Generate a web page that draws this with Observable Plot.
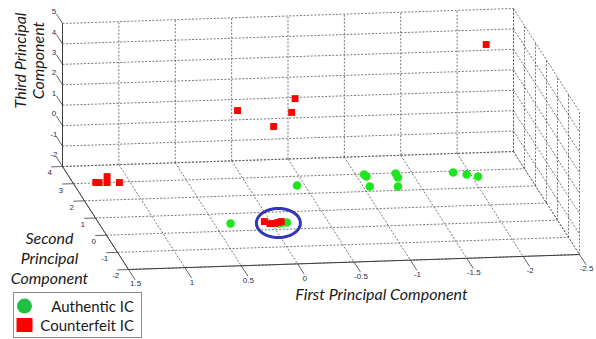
<!DOCTYPE html>
<html><head><meta charset="utf-8">
<script src="https://cdn.jsdelivr.net/npm/d3@7"></script>
<script src="https://cdn.jsdelivr.net/npm/@observablehq/plot@0.6"></script>
<style>
body{margin:0;background:#fff;}
#wrap{position:relative;width:596px;height:339px;overflow:hidden;}
.legend{position:absolute;left:13px;top:292px;width:129px;height:46px;border:1px solid #8c8c8c;background:#fff;box-sizing:border-box;font-family:Lato,"Open Sans",sans-serif;font-size:15px;color:#1a1a1a;}
.legend .lbl{position:absolute;right:7px;white-space:nowrap;line-height:18px;}
.legend svg{position:absolute;left:1px;}
</style></head><body><div id="wrap"></div>
<script>
// Axis ticks
const pc1Ticks = [1.5, 1, 0.5, 0, -0.5, -1, -1.5, -2, -2.5];
const pc2Ticks = [4, 3, 2, 1, 0, -1, -2];
const pc3Ticks = [-2, -1, 0, 1, 2, 3, 4, 5];

// Authentic IC (green)
const authPC1 = [-0.98, -1.00, -1.03, -1.26, -1.28, -1.28, -1.77, -1.89, -1.99, 0.40, -0.19, -0.03, -0.06, -0.10];
const authPC2 = [2, 2, 2, 2, 2, 2, 2, 2, 2, 0, 0, 0, 0, 0];
const authPC3 = [-1.17, -1.27, -1.76, -1.17, -1.37, -1.81, -1.21, -1.33, -1.45, -1.63, 0.12, -1.71, -1.67, -1.67];

// Counterfeit IC (red)
const cfPC1 = [-2.16, 0.24, -0.27, -0.24, -0.08, 1.40, 1.37, 1.30, 1.30, 1.19, 0.10, 0.05, 0.01, -0.02, -0.05];
const cfPC2 = [3, 1, 1, 1, 1, 2, 2, 2, 2, 2, 0, 0, 0, 0, 0];
const cfPC3 = [4.14, 3.03, 3.52, 2.85, 2.19, -1.12, -1.13, -1.14, -0.85, -1.16, -1.59, -1.70, -1.70, -1.66, -1.62];

// Highlighted cluster (centre in PC space)
const clusterCentre = [-0.02, 0, -1.66];

// --- view (orthographic camera) ---
const lim = {x0: 1.5, x1: -2.5, y0: -2, y1: 4, z0: -2, z1: 5};
const view = {ox: 62, oy: 166, ex: [-112.75, 3.75], ey: [-11, -17.17], ez: [0, -20.43]};
function proj(a, b, c) {
  const da = a - lim.x0, db = b - lim.y1, dc = c - lim.z0;
  return [view.ox + da*view.ex[0] + db*view.ey[0] + dc*view.ez[0],
          view.oy + da*view.ex[1] + db*view.ey[1] + dc*view.ez[1]];
}
function seg(p, q) { const [x1,y1] = proj(...p), [x2,y2] = proj(...q); return {x1,y1,x2,y2}; }

const grid = [];
for (const a of pc1Ticks) { grid.push(seg([a,lim.y1,lim.z0],[a,lim.y1,lim.z1])); grid.push(seg([a,lim.y1,lim.z0],[a,lim.y0,lim.z0])); }
for (const c of pc3Ticks) { grid.push(seg([lim.x0,lim.y1,c],[lim.x1,lim.y1,c])); grid.push(seg([lim.x1,lim.y1,c],[lim.x1,lim.y0,c])); }
for (const b of pc2Ticks) { grid.push(seg([lim.x0,b,lim.z0],[lim.x1,b,lim.z0])); grid.push(seg([lim.x1,b,lim.z0],[lim.x1,b,lim.z1])); }

const axes = [
  seg([lim.x0,lim.y1,lim.z0],[lim.x0,lim.y1,lim.z1]),
  seg([lim.x0,lim.y1,lim.z0],[lim.x0,lim.y0,lim.z0]),
  seg([lim.x0,lim.y0,lim.z0],[lim.x1,lim.y0,lim.z0])
];
const ticks = [], labels = [];
for (const c of pc3Ticks) { const s = seg([lim.x0,lim.y1,c],[lim.x0,lim.y1+0.55,c]); ticks.push(s); labels.push({x:s.x2-2.5,y:s.y2-2.5,t:String(c),anchor:"end"}); }
for (const b of pc2Ticks) { const s = seg([lim.x0,b,lim.z0],[lim.x0+0.1,b,lim.z0]); ticks.push(s); labels.push({x:s.x2-1.5,y:s.y2+6,t:String(b),anchor:"end"}); }
for (const a of pc1Ticks) { const s = seg([a,lim.y0,lim.z0],[a,lim.y0-0.6,lim.z0]); ticks.push(s); labels.push({x:s.x2+0.5,y:s.y2+4,t:String(a),anchor:"start"}); }

const auth = authPC1.map((v,i) => { const [x,y] = proj(v, authPC2[i], authPC3[i]); return {x,y}; });
const cf = cfPC1.map((v,i) => { const [x,y] = proj(v, cfPC2[i], cfPC3[i]); return {x,y}; });

const [ecx, ecy] = proj(...clusterCentre);
const ellipse = d3.range(0, 361, 6).map(d => ({x: ecx + 0.5 + 22*Math.cos(d*Math.PI/180), y: ecy + 0.5 + 14.5*Math.sin(d*Math.PI/180)}));

const font = "Lato, 'Open Sans', sans-serif";
const chart = Plot.plot({
  width: 596, height: 339, margin: 0,
  x: {domain: [0, 596], range: [0, 596], axis: null},
  y: {domain: [0, 339], range: [0, 339], axis: null},
  style: {background: "#fff", overflow: "visible"},
  marks: [
    Plot.link(grid, {x1:"x1", y1:"y1", x2:"x2", y2:"y2", stroke:"#555", strokeWidth:0.8, strokeDasharray:"2,1.6"}),
    Plot.link(axes, {x1:"x1", y1:"y1", x2:"x2", y2:"y2", stroke:"#3c3c3c", strokeWidth:1}),
    Plot.link(ticks, {x1:"x1", y1:"y1", x2:"x2", y2:"y2", stroke:"#3c3c3c", strokeWidth:0.8}),
    Plot.text(labels, {x:"x", y:"y", text:"t", textAnchor:"anchor", fontSize:8, fill:"#2e2e55", fontFamily:"Liberation Sans, Arial, sans-serif"}),
    Plot.dot(auth, {x:"x", y:"y", r:4.3, fill:"#1ee61e", stroke:"none"}),
    Plot.dot(cf, {x:"x", y:"y", r:3.9, symbol:"square", fill:"#ff0000", stroke:"none"}),
    Plot.line(ellipse, {x:"x", y:"y", stroke:"#3535b5", strokeWidth:3, curve:"linear-closed"}),
    Plot.text(["First Principal Component"], {x:381, y:294, text:d=>d, fontSize:16, fontStyle:"italic", fontFamily:font, fill:"#1a1a1a"}),
    Plot.text(["Third Principal\nComponent"], {x:29, y:60, text:d=>d, rotate:-90, lineHeight:1.08, fontSize:16, fontStyle:"italic", fontFamily:font, fill:"#1a1a1a"}),
    Plot.text(["Second\nPrincipal\nComponent"], {x:49, y:257, text:d=>d, lineHeight:1.25, fontSize:16, fontStyle:"italic", fontFamily:font, fill:"#1a1a1a"})
  ]
});
const wrap = document.getElementById("wrap");
wrap.appendChild(chart);
const legend = document.createElement("div");
legend.className = "legend";
legend.innerHTML = `
 <svg style="top:4px" width="20" height="18"><circle cx="9.5" cy="9" r="7.5" fill="#20c040"/></svg><span class="lbl" style="top:4px">Authentic IC</span>
 <svg style="top:23px" width="20" height="18"><rect x="1.5" y="2" width="16" height="14" fill="#ff0000"/></svg><span class="lbl" style="top:23px">Counterfeit IC</span>`;
wrap.appendChild(legend);
</script></body></html>
